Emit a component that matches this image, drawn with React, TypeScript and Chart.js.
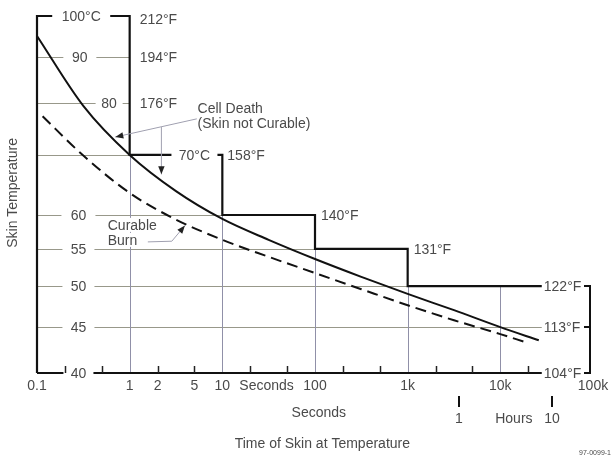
import React, { useEffect, useRef } from 'react';
import { Chart, registerables } from 'chart.js';

Chart.register(...registerables);

// ---- data ----
const X_MIN = 0.1;
const X_MAX = 100000;
const Y_MIN = 40;
const Y_MAX = 100;

// Cell death curve (solid)
const CELL_DEATH_TIMES = [0.1, 0.316, 1, 3.16, 10, 31.6, 100, 316, 1000, 3162, 10000, 26000];
const CELL_DEATH_TEMPS = [95.0, 79.4, 70.0, 63.8, 59.4, 56.3, 53.6, 51.2, 49.0, 47.0, 45.0, 43.5];

// Curable burn curve (dashed)
const BURN_TIMES = [0.115, 0.316, 1, 3.16, 10, 31.6, 100, 316, 1000, 3162, 10000, 18500];
const BURN_TEMPS = [77.3, 69.9, 63.5, 59.3, 56.3, 53.9, 51.7, 49.6, 47.6, 45.8, 44.2, 43.3];

// Temperature limit staircase
const LIMIT_LEVELS = [100, 70, 60, 55, 50];
const LIMIT_BREAKS = [1, 10, 100, 1000, 28000];

// Grid
const GRID_TEMPS = [90, 80, 70, 60, 55, 50, 45];
const GRID_TIMES = [1, 10, 100, 1000, 10000];
const MINOR_TICKS = [0.2, 0.5, 2, 5, 20, 50, 200, 500, 2000, 5000, 20000];

// Celsius labels (left) and Fahrenheit labels (right of staircase)
const C_TEMPS = [100, 90, 80, 70, 60, 55, 50, 45, 40];
const C_LABELS = ['100°C', '90', '80', '70°C', '60', '55', '50', '45', '40'];
const F_LABELS = ['212°F', '194°F', '176°F', '158°F', '140°F', '131°F', '122°F', '113°F', '104°F'];

// Time axis labels
const TIME_LABEL_VALUES = [0.1, 1, 2, 5, 10, 30, 100, 1000, 10000, 100000];
const TIME_LABELS = ['0.1', '1', '2', '5', '10', 'Seconds', '100', '1k', '10k', '100k'];
const HOUR_MARKS = [1, 10];

// ---- layout (positions of labels, not data) ----
const C_LABEL_AT = [0.3, 0.29, 0.6, 5, 0.28, 0.28, 0.28, 0.28, 0.28];
const C_LABEL_BOX = [58, 33, 27, 46, 34, 32, 32, 32, 30];
const F_LABEL_AT = [1, 1, 1, 10, 100, 1000, 28000, 28000, 28000];
const F_LABEL_DX = [10, 10, 10, 5, 6, 6, 2, 2, 2];
const F_LABEL_DY = [3, 0, 0, 0, 0, 0, 0, 0, 0];

const FONT = '"Liberation Sans", Arial, Helvetica, sans-serif';
const TEXT = '#4a4a4a';

const limitTime = (T: number) => {
  for (let i = 0; i < LIMIT_LEVELS.length - 1; i++) {
    if (LIMIT_LEVELS[i + 1] <= T) return LIMIT_BREAKS[i];
  }
  return LIMIT_BREAKS[LIMIT_BREAKS.length - 1];
};
const levelAt = (t: number) => {
  for (let i = 0; i < LIMIT_BREAKS.length; i++) {
    if (t <= LIMIT_BREAKS[i]) return t === LIMIT_BREAKS[i] && i + 1 < LIMIT_LEVELS.length ? LIMIT_LEVELS[i + 1] : LIMIT_LEVELS[i];
  }
  return LIMIT_LEVELS[LIMIT_LEVELS.length - 1];
};

const stepPoints = () => {
  const pts: { x: number; y: number }[] = [{ x: X_MIN, y: Y_MIN }, { x: X_MIN, y: LIMIT_LEVELS[0] }];
  LIMIT_LEVELS.forEach((lv, i) => {
    pts.push({ x: LIMIT_BREAKS[i], y: lv });
    if (i + 1 < LIMIT_LEVELS.length) pts.push({ x: LIMIT_BREAKS[i], y: LIMIT_LEVELS[i + 1] });
  });
  return pts;
};

const overlay = {
  id: 'overlay',
  beforeDatasetsDraw(chart: any) {
    const { ctx } = chart;
    const xs = chart.scales.x;
    const ys = chart.scales.y;
    const px = (t: number) => xs.getPixelForValue(t);
    const py = (T: number) => ys.getPixelForValue(T);
    ctx.save();
    ctx.lineWidth = 1;
    ctx.strokeStyle = '#98988a';
    GRID_TEMPS.forEach((T) => {
      const yy = Math.round(py(T)) + 0.5;
      ctx.beginPath();
      ctx.moveTo(px(X_MIN), yy);
      ctx.lineTo(px(limitTime(T)), yy);
      ctx.stroke();
    });
    ctx.strokeStyle = '#9090a8';
    GRID_TIMES.forEach((t) => {
      const xx = Math.round(px(t)) + 0.5;
      ctx.beginPath();
      ctx.moveTo(xx, py(Y_MIN));
      ctx.lineTo(xx, py(levelAt(t)));
      ctx.stroke();
    });
    ctx.restore();
  },
  afterDatasetsDraw(chart: any) {
    const { ctx } = chart;
    const xs = chart.scales.x;
    const ys = chart.scales.y;
    const px = (t: number) => xs.getPixelForValue(t);
    const py = (T: number) => ys.getPixelForValue(T);
    ctx.save();
    ctx.font = `14px ${FONT}`;
    ctx.textBaseline = 'middle';

    // Celsius labels sitting in gaps of the lines
    C_TEMPS.forEach((T, i) => {
      const cx = px(C_LABEL_AT[i]);
      const cy = py(T);
      const w = C_LABEL_BOX[i];
      ctx.fillStyle = '#fff';
      ctx.fillRect(cx - w / 2, cy - 7, w, 14);
      ctx.fillStyle = TEXT;
      ctx.textAlign = 'center';
      ctx.fillText(C_LABELS[i], cx, cy + 1);
    });

    // minor ticks on time axis
    ctx.strokeStyle = '#222';
    ctx.lineWidth = 1.5;
    MINOR_TICKS.forEach((t) => {
      const xx = Math.round(px(t)) + 0.5;
      ctx.beginPath();
      ctx.moveTo(xx, py(Y_MIN));
      ctx.lineTo(xx, py(Y_MIN) - 7);
      ctx.stroke();
    });

    // Fahrenheit labels
    ctx.fillStyle = TEXT;
    ctx.textAlign = 'left';
    C_TEMPS.forEach((T, i) => {
      ctx.fillText(F_LABELS[i], px(F_LABEL_AT[i]) + F_LABEL_DX[i], py(T) + F_LABEL_DY[i] + 1);
    });

    // right bracket
    const bx = px(X_MAX) - 3;
    ctx.strokeStyle = '#111';
    ctx.lineWidth = 2;
    ctx.beginPath();
    ctx.moveTo(bx - 6, py(50));
    ctx.lineTo(bx, py(50));
    ctx.lineTo(bx, py(40));
    ctx.lineTo(bx - 6, py(40));
    ctx.moveTo(bx - 6, py(45));
    ctx.lineTo(bx, py(45));
    ctx.stroke();

    // time axis labels
    const base = py(Y_MIN);
    ctx.textAlign = 'center';
    ctx.fillStyle = TEXT;
    TIME_LABEL_VALUES.forEach((t, i) => {
      ctx.fillText(TIME_LABELS[i], px(t), base + 13);
    });
    ctx.fillText('Seconds', px(110), base + 40);
    // hours
    ctx.strokeStyle = '#111';
    ctx.lineWidth = 2;
    HOUR_MARKS.forEach((h) => {
      const xx = Math.round(px(h * 3600));
      ctx.beginPath();
      ctx.moveTo(xx, base + 23);
      ctx.lineTo(xx, base + 34);
      ctx.stroke();
      ctx.fillText(String(h), xx, base + 46);
    });
    ctx.fillText('Hours', px(14000), base + 46);
    ctx.fillText('Time of Skin at Temperature', px(120), base + 71);

    // y-axis title
    ctx.save();
    ctx.translate(13, py(63.5));
    ctx.rotate(-Math.PI / 2);
    ctx.fillText('Skin Temperature', 0, 0);
    ctx.restore();

    // figure id
    ctx.font = `7px ${FONT}`;
    ctx.textAlign = 'right';
    ctx.fillText('97-0099-1', 611, 453);

    // annotations
    ctx.font = `14px ${FONT}`;
    ctx.textAlign = 'left';
    const arrow = (pts: [number, number][]) => {
      const p = pts.map(([t, T]) => [px(t), py(T)]);
      ctx.strokeStyle = '#a0a0b0';
      ctx.lineWidth = 1;
      ctx.beginPath();
      ctx.moveTo(p[0][0], p[0][1]);
      for (let i = 1; i < p.length; i++) ctx.lineTo(p[i][0], p[i][1]);
      ctx.stroke();
      const [x1, y1] = p[p.length - 2];
      const [x2, y2] = p[p.length - 1];
      const a = Math.atan2(y2 - y1, x2 - x1);
      const L = 8;
      const W = 3.2;
      ctx.fillStyle = '#222';
      ctx.beginPath();
      ctx.moveTo(x2, y2);
      ctx.lineTo(x2 - L * Math.cos(a) + W * Math.sin(a), y2 - L * Math.sin(a) - W * Math.cos(a));
      ctx.lineTo(x2 - L * Math.cos(a) - W * Math.sin(a), y2 - L * Math.sin(a) + W * Math.cos(a));
      ctx.closePath();
      ctx.fill();
    };
    ctx.fillStyle = TEXT;
    const cdx = px(5.4);
    const cdy = py(78.8);
    ctx.fillText('Cell Death', cdx, cdy);
    ctx.fillText('(Skin not Curable)', cdx, cdy + 15);
    arrow([[5.3, 76.8], [0.7, 73.3]]);
    arrow([[2.2, 75.2], [2.2, 66.6]]);

    const cbx = px(0.58);
    const cby = py(58.5);
    ctx.fillStyle = '#fff';
    ctx.fillRect(cbx - 2, cby - 7, ctx.measureText('Curable').width + 4, 14);
    ctx.fillRect(cbx - 2, cby + 8, ctx.measureText('Burn').width + 4, 14);
    ctx.fillStyle = TEXT;
    ctx.fillText('Curable', cbx, cby + 1);
    ctx.fillText('Burn', cbx, cby + 16);
    arrow([[1.57, 56], [2.85, 56.1], [3.95, 58.4]]);

    ctx.restore();
  },
};

export default function App() {
  const ref = useRef<HTMLCanvasElement>(null);
  useEffect(() => {
    const toPts = (xs: number[], ys: number[]) => xs.map((x, i) => ({ x, y: ys[i] }));
    const chart = new Chart(ref.current as HTMLCanvasElement, {
      type: 'line',
      data: {
        datasets: [
          {
            label: 'Cell Death',
            data: toPts(CELL_DEATH_TIMES, CELL_DEATH_TEMPS),
            borderColor: '#111',
            borderWidth: 2,
            pointRadius: 0,
            cubicInterpolationMode: 'monotone',
            clip: false,
          } as any,
          {
            label: 'Curable Burn',
            data: toPts(BURN_TIMES, BURN_TEMPS),
            borderColor: '#111',
            borderWidth: 2,
            borderDash: [11, 6],
            pointRadius: 0,
            cubicInterpolationMode: 'monotone',
            clip: false,
          } as any,
          {
            label: 'Limit',
            data: stepPoints(),
            borderColor: '#111',
            borderWidth: 2.2,
            pointRadius: 0,
            tension: 0,
            clip: false,
          } as any,
          {
            label: 'Axis',
            data: [
              { x: X_MIN, y: Y_MIN },
              { x: LIMIT_BREAKS[LIMIT_BREAKS.length - 1], y: Y_MIN },
            ],
            borderColor: '#111',
            borderWidth: 2,
            pointRadius: 0,
            clip: false,
          } as any,
        ],
      },
      options: {
        animation: false,
        responsive: false,
        maintainAspectRatio: false,
        layout: { padding: { left: 37, top: 16, right: 20, bottom: 86 } },
        plugins: { legend: { display: false }, tooltip: { enabled: false } },
        scales: {
          x: { type: 'logarithmic', min: X_MIN, max: X_MAX, display: false },
          y: { type: 'logarithmic', min: Y_MIN, max: Y_MAX, display: false },
        },
      },
      plugins: [overlay],
    } as any);
    return () => chart.destroy();
  }, []);
  return (
    <div style={{ position: 'absolute', left: 0, top: 0, width: 613, height: 459, background: '#fff' }}>
      <canvas ref={ref} width={613} height={459} style={{ display: 'block', width: 613, height: 459 }} />
    </div>
  );
}
